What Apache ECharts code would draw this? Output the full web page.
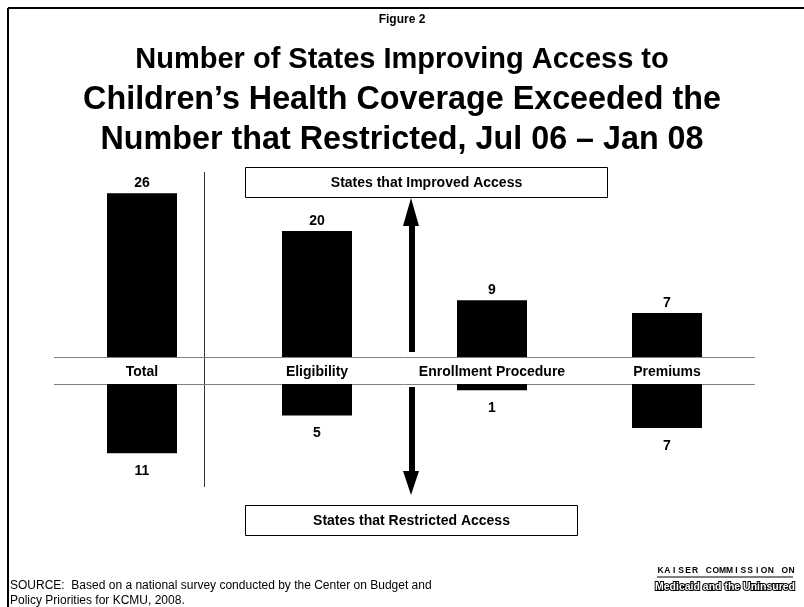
<!DOCTYPE html>
<html>
<head>
<meta charset="utf-8">
<script src="https://cdn.jsdelivr.net/npm/echarts@6/dist/echarts.min.js"></script>
<style>
html,body{margin:0;padding:0;background:#fff;}
#c{width:804px;height:607px;}
</style>
</head>
<body>
<div id="c"></div>
<script>
const categories = ['Total', 'Eligibility', 'Enrollment Procedure', 'Premiums'];
const improved = [26, 20, 9, 7];
const restricted = [11, 5, 1, 7];

const FONT = '"Liberation Sans", Arial, sans-serif';
const chart = echarts.init(document.getElementById('c'), null, {renderer: 'canvas'});

const titleLines = [
  {t: 'Number of States Improving Access to', size: 29, y: 60},
  {t: 'Children\u2019s Health Coverage Exceeded the', size: 32.3, y: 100.5},
  {t: 'Number that Restricted, Jul 06 \u2013 Jan 08', size: 32.3, y: 140.5}
];

const graphics = [
  // frame
  {type: 'line', shape: {x1: 8, y1: 8, x2: 804, y2: 8}, style: {stroke: '#000', lineWidth: 2}},
  {type: 'line', shape: {x1: 8, y1: 8, x2: 8, y2: 607}, style: {stroke: '#000', lineWidth: 2}},
  {type: 'text', x: 402, y: 20, style: {text: 'Figure 2', fontFamily: FONT, fontSize: 12, fontWeight: 'bold', fill: '#000', textAlign: 'center', textVerticalAlign: 'middle'}},
  // divider
  {type: 'line', shape: {x1: 204.5, y1: 172, x2: 204.5, y2: 487}, style: {stroke: '#333', lineWidth: 1}},
  // up arrow
  {type: 'rect', shape: {x: 409, y: 224, width: 6, height: 128}, style: {fill: '#000'}},
  {type: 'polygon', shape: {points: [[403, 226], [419, 226], [411, 198]]}, style: {fill: '#000'}},
  // down arrow
  {type: 'rect', shape: {x: 409, y: 387, width: 6, height: 86}, style: {fill: '#000'}},
  {type: 'polygon', shape: {points: [[403, 471], [419, 471], [411, 495]]}, style: {fill: '#000'}},
  // boxes
  {type: 'rect', shape: {x: 245.5, y: 167.5, width: 362, height: 30}, style: {fill: '#fff', stroke: '#000', lineWidth: 1}},
  {type: 'text', x: 426.5, y: 183, style: {text: 'States that Improved Access', fontFamily: FONT, fontSize: 14, fontWeight: 'bold', fill: '#000', textAlign: 'center', textVerticalAlign: 'middle'}},
  {type: 'rect', shape: {x: 245.5, y: 505.5, width: 332, height: 30}, style: {fill: '#fff', stroke: '#000', lineWidth: 1}},
  {type: 'text', x: 411.5, y: 521, style: {text: 'States that Restricted Access', fontFamily: FONT, fontSize: 14, fontWeight: 'bold', fill: '#000', textAlign: 'center', textVerticalAlign: 'middle'}},
  // footnote
  {type: 'text', x: 10, y: 578, style: {text: 'SOURCE:  Based on a national survey conducted by the Center on Budget and\nPolicy Priorities for KCMU, 2008.', fontFamily: FONT, fontSize: 12, lineHeight: 15, fill: '#000', textVerticalAlign: 'top'}},
  // logo underline
  {type: 'line', shape: {x1: 657, y1: 577, x2: 793, y2: 577}, style: {stroke: '#000', lineWidth: 1}},
  {type: 'text', x: 725, y: 587, style: {text: 'Medicaid and the Uninsured', fontFamily: FONT, fontSize: 10.5, fontWeight: 'bold', fill: '#fff', stroke: '#000', lineWidth: 2, textAlign: 'center', textVerticalAlign: 'middle'}}
];
titleLines.forEach(l => {
  graphics.push({type: 'text', x: 402, y: l.y, style: {text: l.t, fontFamily: FONT, fontSize: l.size, fontWeight: 'bold', fill: '#000', textAlign: 'center', textVerticalAlign: 'middle'}});
});
const logoTop = 'KAISER COMMISSION ON';
for (let i = 0; i < logoTop.length; i++) {
  if (logoTop[i] === ' ') continue;
  graphics.push({type: 'text', x: 660.5 + i * 6.9, y: 571, style: {text: logoTop[i], fontFamily: FONT, fontSize: 8.5, fontWeight: 'bold', fill: '#000', textAlign: 'center', textVerticalAlign: 'middle'}});
}

const option = {
  backgroundColor: '#fff',
  animation: false,
  grid: [
    {left: 54.5, width: 700, top: 168, height: 189},
    {left: 54.5, width: 700, top: 384, height: 126}
  ],
  xAxis: [
    {type: 'category', gridIndex: 0, data: categories, position: 'bottom',
     axisLine: {lineStyle: {color: '#808080', width: 1}},
     axisTick: {show: false},
     axisLabel: {margin: 8, fontFamily: FONT, fontSize: 14, fontWeight: 'bold', color: '#000', interval: 0}},
    {type: 'category', gridIndex: 1, data: categories, position: 'top',
     axisLine: {lineStyle: {color: '#808080', width: 1}},
     axisTick: {show: false}, axisLabel: {show: false}}
  ],
  yAxis: [
    {type: 'value', gridIndex: 0, min: 0, max: 30, show: false, splitLine: {show: false}},
    {type: 'value', gridIndex: 1, min: 0, max: 20, inverse: true, show: false, splitLine: {show: false}}
  ],
  series: [
    {type: 'bar', name: 'States that Improved Access', xAxisIndex: 0, yAxisIndex: 0,
     data: improved, barWidth: 70, itemStyle: {color: '#000'},
     label: {show: true, position: 'top', distance: 3, fontFamily: FONT, fontSize: 14, fontWeight: 'bold', color: '#000'}},
    {type: 'bar', name: 'States that Restricted Access', xAxisIndex: 1, yAxisIndex: 1,
     data: restricted, barWidth: 70, itemStyle: {color: '#000'},
     label: {show: true, position: 'bottom', distance: 11, fontFamily: FONT, fontSize: 14, fontWeight: 'bold', color: '#000'}}
  ],
  graphic: graphics
};
chart.setOption(option);
</script>
</body>
</html>
